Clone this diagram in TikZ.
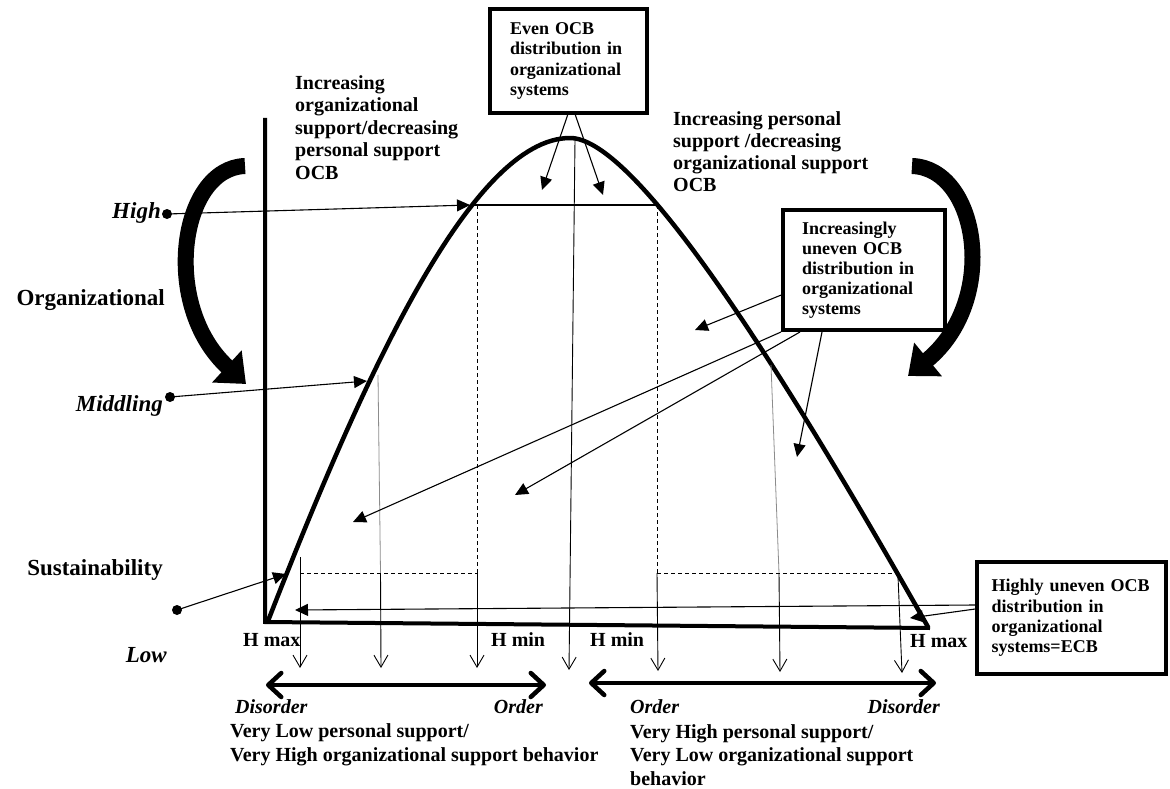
\documentclass[tikz,border=0pt]{standalone}
\usepackage{fontspec}
\setmainfont{Liberation Serif}
\usetikzlibrary{arrows.meta}
\begin{document}
\begin{tikzpicture}[x=1pt,y=-1pt,
  lab/.style={font=\fontsize{20}{22.5}\selectfont\bfseries, align=left, inner sep=0pt},
  side/.style={font=\fontsize{23}{26}\selectfont\bfseries, inner sep=0pt},
  boxt/.style={draw, line width=3.5pt, font=\fontsize{18}{20.3}\selectfont\bfseries, align=left, inner ysep=0pt},
  dot/.style={circle, fill=black, inner sep=0pt, minimum size=10pt},
  thinl/.style={line width=1.1pt},
  tri/.style={thinl, -{Triangle[length=13pt,width=12pt]}},
  varr/.style={line width=0.9pt, -{Straight Barb[length=12pt,width=14pt]}},
  dashv/.style={line width=0.9pt, dashed, dash pattern=on 4pt off 3pt},
  dbl/.style={line width=4.5pt, {Straight Barb[length=13pt,width=24pt,round]}-{Straight Barb[length=13pt,width=24pt,round]}},
  big/.style={line width=16pt, -{Triangle[length=26pt,width=42pt]}}
]
\fill[white] (0,0) rectangle (1170,789);
\useasboundingbox (0,0) rectangle (1170,789);

% axes
\coordinate (ytop) at (265,118);
\coordinate (xend) at (930,628);
\draw[line width=4pt] (ytop) -- (265,622) -- (xend);

% curve
\coordinate (peak) at (570,138);
\draw[line width=4.5pt, line join=round] (268,621) .. controls (360,385) and (470,138) .. (peak)
  .. controls (630,138) and (760,330) .. (928,627);

% key points on curve
\coordinate (pH) at (470,205);
\coordinate (pH2) at (657,205);
\coordinate (pM) at (367,381);
\coordinate (pS) at (286,574);

% horizontal high line
\draw[thinl] (pH) -- (pH2);

% dashed lines
\draw[dashv] (477,205) -- (477,573);
\draw[dashv] (657,205) -- (657,573);
\draw[dashv] (300,573) -- (477,573);
\draw[dashv] (657,573) -- (897,573);

% vertical arrows
\coordinate (v1a) at (300,557); \coordinate (v1b) at (300,668);
\draw[varr] (v1a) -- (v1b);
\draw[line width=0.8pt, black!45] (378,375) -- (380.5,573);
\coordinate (v2a) at (380.5,573); \coordinate (v2b) at (381,668);
\draw[varr] (v2a) -- (v2b);
\coordinate (v3a) at (477,573); \coordinate (v3b) at (477,668);
\draw[varr] (v3a) -- (v3b);
\coordinate (v4a) at (575,140); \coordinate (v4b) at (569,670);
\draw[varr] (v4a) -- (v4b);
\coordinate (v5a) at (657,573); \coordinate (v5b) at (658,671);
\draw[varr] (v5a) -- (v5b);
\draw[line width=0.8pt, black!45] (771,365) -- (779,573);
\coordinate (v6a) at (779,573); \coordinate (v6b) at (780,672);
\draw[varr] (v6a) -- (v6b);
\coordinate (v7a) at (898,576); \coordinate (v7b) at (902,673);
\draw[varr] (v7a) -- (v7b);

% left labels
\node[side, anchor=base east] (high) at (161,218) {\itshape High};
\node[side, anchor=base east] (org) at (165,305) {Organizational};
\node[side, anchor=base east] (mid) at (163,411) {\itshape Middling};
\node[side, anchor=base east] (sus) at (163,575) {Sustainability};
\node[side, anchor=base east] (low) at (167,662) {\itshape Low};
\node[dot] (dh) at (167,214) {};
\node[dot] (dm) at (170,397) {};
\node[dot] (ds) at (177,610) {};
\draw[tri] (dh.center) -- (pH);
\draw[tri] (dm.center) -- (pM);
\draw[tri] (ds.center) -- (pS);

% big curved arrows
\coordinate (bl1) at (245,166);
\coordinate (bl2) at (246,384);
\draw[big] (bl1) .. controls (180,168) and (160,305) .. (bl2);
\coordinate (br1) at (912,166);
\coordinate (br2) at (908,376);
\draw[big] (br1) .. controls (978,168) and (1000,300) .. (br2);

% top texts (anchored at the baseline of their last line)
\node[lab, anchor=base west] (tl) at (295,179) {Increasing\\organizational\\support/decreasing\\personal support\\OCB};
\node[lab, font=\fontsize{20}{22}\selectfont\bfseries, anchor=base west] (tr) at (673,191) {Increasing personal\\support /decreasing\\organizational support\\OCB};

% boxes
\node[boxt, text width=117pt, inner xsep=20pt, minimum height=104pt] (even) at (568.5,61) {Even OCB\\distribution in\\organizational\\systems};
\node[boxt, font=\fontsize{18}{20}\selectfont\bfseries, text width=124pt, inner xsep=19pt, minimum height=120pt] (inc) at (864,270) {Increasingly\\uneven OCB\\distribution in\\organizational\\systems};
\node[boxt, text width=160pt, inner xsep=14.5pt, minimum height=112pt] (ecb) at (1071.5,618) {Highly uneven OCB\\distribution in\\organizational\\systems=ECB};

% arrows from boxes
\coordinate (e1) at (542,190); \coordinate (e2) at (603,195);
\draw[tri] (568,114) -- (e1);
\draw[tri] (575,114) -- (e2);
\coordinate (i1) at (695,330); \coordinate (i2) at (353,522);
\coordinate (i3) at (515,495); \coordinate (i4) at (797,457);
\draw[tri] (inc.west |- 0,295) -- (i1);
\draw[tri] (781,332) -- (i2);
\draw[tri] (800,332) -- (i3);
\draw[tri] (822,332) -- (i4);
\coordinate (c1) at (295,610); \coordinate (c2) at (910,618);
\draw[tri] (ecb.west |- 0,605) -- (c1);
\draw[tri] (ecb.west |- 0,609) -- (c2);

% H labels
\node[lab, anchor=base west] (hmax1) at (243,646) {H max};
\node[lab, anchor=base west] (hmin1) at (491,646) {H min};
\node[lab, anchor=base west] (hmin2) at (590,646) {H min};
\node[lab, anchor=base west] (hmax2) at (910,647) {H max};

% bottom double arrows
\coordinate (da1) at (266,685); \coordinate (da2) at (546,685);
\draw[dbl] (da1) -- (da2);
\coordinate (db1) at (589,683); \coordinate (db2) at (936,683);
\draw[dbl] (db1) -- (db2);

% bottom texts
\node[lab, anchor=base west] (dis1) at (235,713) {\itshape Disorder};
\node[lab, anchor=base east] (ord1) at (543,713) {\itshape Order};
\node[lab, font=\fontsize{20}{24}\selectfont\bfseries, anchor=base west] (bt1) at (230,761) {Very Low personal support/\\Very High organizational support behavior};
\node[lab, anchor=base west] (ord2) at (630,713) {\itshape Order};
\node[lab, anchor=base east] (dis2) at (940,713) {\itshape Disorder};
\node[lab, font=\fontsize{20}{23.5}\selectfont\bfseries, anchor=base west] (bt2) at (630,785) {Very High personal support/\\Very Low organizational support\\behavior};
\end{tikzpicture}
\end{document}
